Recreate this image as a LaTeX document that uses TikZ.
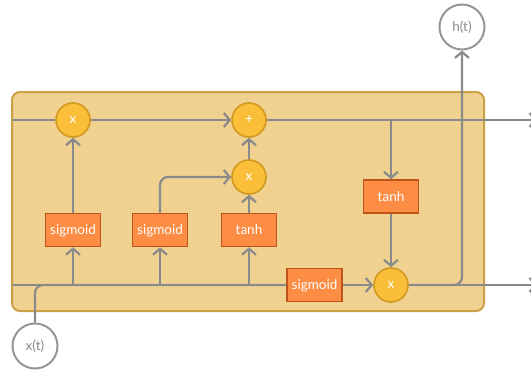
\documentclass[tikz,border=0pt]{standalone}
\usepackage{fontspec}
\setmainfont{Lato}
\usetikzlibrary{arrows.meta}
\definecolor{cellfill}{HTML}{F0D190}
\definecolor{celledge}{HTML}{C9A048}
\definecolor{opfill}{HTML}{FABE38}
\definecolor{opedge}{HTML}{D09A20}
\definecolor{gatefill}{HTML}{FD8C44}
\definecolor{gateedge}{HTML}{BE541A}
\definecolor{wire}{HTML}{8A8A8A}
\begin{document}
\begin{tikzpicture}[x=1pt,y=-1pt,
  cell/.style={draw=celledge,fill=cellfill,line width=2pt,rounded corners=8pt},
  op/.style={circle,draw=opedge,fill=opfill,line width=1.6pt,minimum size=34pt,inner sep=0pt,
    text=white,font=\fontsize{13.5}{13.5}\selectfont},
  gate/.style={rectangle,draw=gateedge,fill=gatefill,line width=1.6pt,minimum width=55pt,
    minimum height=33pt,inner sep=0pt,text depth=0pt,text=white,font=\fontsize{13.5}{13.5}\selectfont},
  io/.style={circle,draw=wire!90,fill=white,line width=2pt,minimum size=45pt,inner sep=0pt,
    text=wire,font=\fontsize{13.5}{13.5}\selectfont},
  wireline/.style={draw=wire,line width=2.2pt},
  flow/.style={wireline,-{Straight Barb[length=6pt,width=14pt,line width=2.2pt]}}
]
\useasboundingbox (0,0) rectangle (531,370);

% cell body
\draw[cell] (12,92) rectangle (484,311);

% pointwise operations
\node[op] (m1)  at (73,120)  {x};
\node[op] (add) at (249,120) {+};
\node[op] (m2)  at (249,177) {x};
\node[op] (m3)  at (391,285) {x};

% gate layers
\node[gate] (sf) at (73,230)    {sigmoid};
\node[gate] (si) at (160,230)   {sigmoid};
\node[gate] (tc) at (249,230)   {tanh};
\node[gate] (so) at (314.5,285) {sigmoid};
\node[gate] (th) at (391,196.5) {tanh};

% input and output
\node[io] (ht) at (462,27)  {h(t)};
\node[io] (xt) at (35,346)  {x(t)};

% wire end points and junctions
\coordinate (cin)  at (12,120);
\coordinate (hin)  at (12,285);
\coordinate (cout) at (537,120);
\coordinate (hout) at (537,285);
\coordinate (jf) at (73,285);
\coordinate (ji) at (160,285);
\coordinate (jc) at (249,285);
\coordinate (jt) at (391,120);

% cell state line
\draw[wireline] (cin) -- (m1);
\draw[flow] (m1) -- (add);
\draw[flow] (add) -- (cout);
\draw[flow] (jt) -- (th);
\draw[flow] (th) -- (m3);

% hidden state and input line
\draw[wireline] (hin) -- (so.west);
\draw[wireline,rounded corners=8pt] (xt.north) |- (so.west);
\draw[flow] (jf) -- (sf);
\draw[flow] (sf) -- (m1);
\draw[flow] (ji) -- (si);
\draw[flow,rounded corners=8pt] (si.north) |- (m2.west);
\draw[flow] (jc) -- (tc);
\draw[flow] (tc) -- (m2);
\draw[flow] (m2) -- (add);
\draw[flow] (so) -- (m3);

% outputs
\draw[flow] (m3) -- (hout);
\draw[flow,rounded corners=8pt] (m3.east) -| (ht.south);
\end{tikzpicture}
\end{document}
